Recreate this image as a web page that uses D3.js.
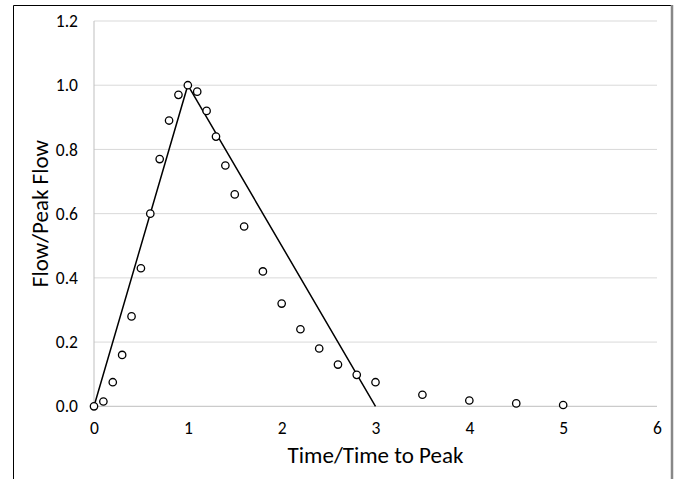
<!DOCTYPE html>
<html>
<head>
<meta charset="utf-8">
<script src="https://cdn.jsdelivr.net/npm/d3@7"></script>
<style>
  body { margin: 0; background: #fff; }
  svg { display: block; font-family: Calibri, Carlito, "Open Sans", "Liberation Sans", sans-serif; }
</style>
</head>
<body>
<svg width="678" height="479"></svg>
<script>
// SCS dimensionless unit hydrograph points
let timeRatio = [0, 0.1, 0.2, 0.3, 0.4, 0.5, 0.6, 0.7, 0.8, 0.9, 1.0, 1.1, 1.2, 1.3, 1.4,
  1.5, 1.6, 1.8, 2.0, 2.2, 2.4, 2.6, 2.8, 3.0, 3.5, 4.0, 4.5, 5.0];
let flowRatio = [0, 0.015, 0.075, 0.16, 0.28, 0.43, 0.60, 0.77, 0.89, 0.97, 1.0, 0.98, 0.92, 0.84, 0.75,
  0.66, 0.56, 0.42, 0.32, 0.24, 0.18, 0.13, 0.098, 0.075, 0.036, 0.018, 0.009, 0.004];

// triangular approximation
let triTime = [0, 1, 3];
let triFlow = [0, 1, 0];

let xTicks = [0, 1, 2, 3, 4, 5, 6];
let yTicks = [0, 0.2, 0.4, 0.6, 0.8, 1.0, 1.2];

let svg = d3.select("svg");

// chart border (cropped at the bottom)
svg.append("path")
  .attr("d", "M13.5,479 L13.5,5.5 L671,5.5")
  .attr("fill", "none").attr("stroke", "#000").attr("stroke-width", 1);
svg.append("line")
  .attr("x1", 672).attr("x2", 672).attr("y1", 5).attr("y2", 479)
  .attr("stroke", "#888").attr("stroke-width", 2.5);

let margin = { left: 94, top: 21, right: 657, bottom: 406.3 };

let x = d3.scaleLinear().domain([0, 6]).range([margin.left, margin.right]);
let y = d3.scaleLinear().domain([0, 1.2]).range([margin.bottom, margin.top]);

// gridlines
svg.append("g").selectAll("line")
  .data(yTicks.slice(1))
  .enter().append("line")
  .attr("x1", x(0)).attr("x2", x(6))
  .attr("y1", d => y(d)).attr("y2", d => y(d))
  .attr("stroke", "#d9d9d9").attr("stroke-width", 1);

// axes lines
svg.append("line")
  .attr("x1", x(0)).attr("x2", x(6)).attr("y1", y(0)).attr("y2", y(0))
  .attr("stroke", "#bfbfbf");
svg.append("line")
  .attr("x1", x(0)).attr("x2", x(0)).attr("y1", y(0)).attr("y2", y(1.2))
  .attr("stroke", "#bfbfbf");

// tick labels
let xAxis = d3.axisBottom(x).tickValues(xTicks).tickSize(0).tickPadding(15)
  .tickFormat(d3.format("d"));
let xg = svg.append("g").attr("transform", "translate(0," + y(0) + ")").call(xAxis);
xg.select(".domain").remove();
xg.selectAll("text").attr("font-size", 17.5).attr("fill", "#000")
  .attr("font-family", "Calibri, Carlito, 'Open Sans', sans-serif");

let yAxis = d3.axisLeft(y).tickValues(yTicks).tickSize(0).tickPadding(16)
  .tickFormat(d3.format(".1f"));
let yg = svg.append("g").attr("transform", "translate(" + x(0) + ",0)").call(yAxis);
yg.select(".domain").remove();
yg.selectAll("text").attr("font-size", 17.5).attr("fill", "#000")
  .attr("font-family", "Calibri, Carlito, 'Open Sans', sans-serif");

// axis titles
svg.append("text")
  .attr("x", x(3)).attr("y", 463)
  .attr("text-anchor", "middle").attr("font-size", 23)
  .text("Time/Time to Peak");
svg.append("text")
  .attr("transform", "translate(48," + y(0.6) + ") rotate(-90)")
  .attr("text-anchor", "middle").attr("font-size", 23)
  .text("Flow/Peak Flow");

// triangle line
let line = d3.line().x(d => x(d[0])).y(d => y(d[1]));
svg.append("path")
  .datum(d3.zip(triTime, triFlow))
  .attr("d", line)
  .attr("fill", "none").attr("stroke", "#000").attr("stroke-width", 1.5);

// points
svg.append("g").selectAll("circle")
  .data(d3.zip(timeRatio, flowRatio))
  .enter().append("circle")
  .attr("cx", d => x(d[0])).attr("cy", d => y(d[1]))
  .attr("r", 3.7)
  .attr("fill", "#fff").attr("stroke", "#000").attr("stroke-width", 1.3);
</script>
</body>
</html>
